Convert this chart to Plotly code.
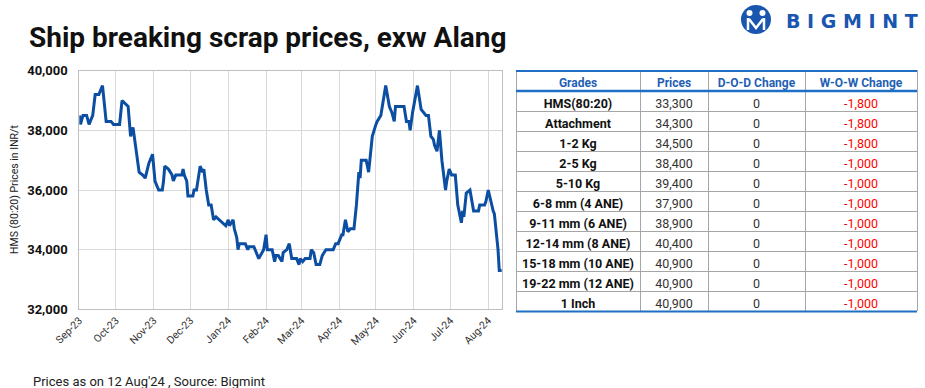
import plotly.graph_objects as go

# ---------------- data ----------------
dates = [
    "2023-09-01", "2023-09-02", "2023-09-04", "2023-09-07", "2023-09-09", "2023-09-12",
    "2023-09-14", "2023-09-17", "2023-09-20", "2023-09-23", "2023-09-27", "2023-09-29",
    "2023-10-04", "2023-10-06", "2023-10-11", "2023-10-13", "2023-10-15", "2023-10-18",
    "2023-10-20", "2023-10-23", "2023-10-25", "2023-10-28", "2023-10-31",
    "2023-11-02", "2023-11-05", "2023-11-08", "2023-11-09", "2023-11-10", "2023-11-13",
    "2023-11-16", "2023-11-17", "2023-11-19", "2023-11-24", "2023-11-25", "2023-11-26",
    "2023-11-28", "2023-11-29",
    "2023-12-03", "2023-12-04", "2023-12-06", "2023-12-08", "2023-12-09", "2023-12-11",
    "2023-12-12", "2023-12-14", "2023-12-16", "2023-12-18", "2023-12-20", "2023-12-22",
    "2023-12-27", "2023-12-30",
    "2024-01-01", "2024-01-02", "2024-01-05", "2024-01-06", "2024-01-08", "2024-01-09",
    "2024-01-10", "2024-01-15", "2024-01-17", "2024-01-18", "2024-01-22", "2024-01-26",
    "2024-01-30",
    "2024-02-01", "2024-02-02", "2024-02-06", "2024-02-08", "2024-02-09", "2024-02-11",
    "2024-02-14", "2024-02-15", "2024-02-18", "2024-02-20", "2024-02-22", "2024-02-26",
    "2024-02-28", "2024-02-29",
    "2024-03-02", "2024-03-04", "2024-03-08", "2024-03-09", "2024-03-11", "2024-03-13",
    "2024-03-16", "2024-03-18", "2024-03-21", "2024-03-27", "2024-03-29", "2024-03-31",
    "2024-04-03", "2024-04-04", "2024-04-06", "2024-04-08", "2024-04-10", "2024-04-13",
    "2024-04-15", "2024-04-17", "2024-04-18", "2024-04-19", "2024-04-23", "2024-04-25",
    "2024-04-26", "2024-04-28",
    "2024-05-01", "2024-05-02", "2024-05-05", "2024-05-09", "2024-05-12", "2024-05-14",
    "2024-05-16", "2024-05-17", "2024-05-24", "2024-05-26", "2024-05-28", "2024-05-29",
    "2024-05-31",
    "2024-06-04", "2024-06-07", "2024-06-11", "2024-06-13", "2024-06-15", "2024-06-17",
    "2024-06-18", "2024-06-20", "2024-06-22", "2024-06-24", "2024-06-27", "2024-06-28",
    "2024-06-30",
    "2024-07-02", "2024-07-05", "2024-07-07", "2024-07-10", "2024-07-11", "2024-07-12",
    "2024-07-14", "2024-07-17", "2024-07-20", "2024-07-24", "2024-07-25", "2024-07-29",
    "2024-07-30",
    "2024-08-01", "2024-08-05", "2024-08-06", "2024-08-09", "2024-08-10", "2024-08-12",
]
hms_prices = [
    38500, 38200, 38500, 38500, 38200, 38500,
    39200, 39200, 39500, 38300, 38300, 38200,
    38200, 39000, 38800, 37800, 38100, 37200,
    36600, 36500, 36400, 36900, 37200,
    36300, 36000, 36000, 36300, 36800, 36700,
    36500, 36300, 36500, 36500, 36700, 36500,
    36300, 35800,
    35800, 36000, 36000, 36500, 36800, 36600,
    36700, 36000, 35500, 35500, 35000, 35100,
    34900, 34800,
    35000, 34800, 35000, 34700, 34400, 34000,
    34200, 34200, 34000, 34100, 34100, 33700,
    34000,
    34500, 34000, 34000, 33600, 33800, 33800,
    33600, 33900, 34000, 34200, 33700, 33700,
    33500, 33700,
    33600, 33700, 33700, 34000, 33900, 33500,
    33500, 33800, 34000, 34000, 34200, 34200,
    34500, 34500, 35000, 34600, 34700, 34700,
    35500, 36600, 36400, 37000, 37000, 36600,
    37000, 37800,
    38200, 38300, 38500, 39500, 38800, 38600,
    38300, 38800, 38800, 38300, 38300, 38000,
    38600,
    39500, 38700, 38500, 38500, 37800, 37700,
    37500, 37300, 38000, 37000, 36000, 36300,
    36700,
    36500, 36500, 35500, 34900, 35300, 35100,
    35900, 36000, 35300, 35300, 35500, 35500,
    35600,
    36000, 35300, 35200, 34000, 33300, 33300,
]

table_headers = ["Grades", "Prices", "D-O-D Change", "W-O-W Change"]
grades = ["HMS(80:20)", "Attachment", "1-2 Kg", "2-5 Kg", "5-10 Kg", "6-8 mm (4 ANE)",
          "9-11 mm (6 ANE)", "12-14 mm (8 ANE)", "15-18 mm (10 ANE)", "19-22 mm (12 ANE)", "1 Inch"]
grade_prices = [33300, 34300, 34500, 38400, 39400, 37900, 38900, 40400, 40900, 40900, 40900]
dod_change = [0, 0, 0, 0, 0, 0, 0, 0, 0, 0, 0]
wow_change = [-1800, -1800, -1800, -1000, -1000, -1000, -1000, -1000, -1000, -1000, -1000]

title_text = "Ship breaking scrap prices, exw Alang"
y_title = "HMS (80:20) Prices in INR/t"
footer_text = "Prices as on 12 Aug'24 , Source: Bigmint"
brand_text = "BIGMINT"

# ---------------- layout helpers ----------------
W, H = 925, 388
def px(x):
    return x / W
def py(y):
    return 1 - y / H

def nb(s):
    # keep table text on one line
    return s.replace(" ", "\u00a0")

LINE_BLUE = "#0b4ea2"
BRAND = "#1a56b0"
GRID = "#d9d9d9"
AXIS = "#bfbfbf"
TBL_BLUE = "#1f6fc5"

fig = go.Figure()

fig.add_trace(go.Scatter(
    x=dates, y=hms_prices, mode="lines",
    line=dict(color=LINE_BLUE, width=3),
    hoverinfo="x+y", showlegend=False,
))

fig.add_trace(go.Table(
    domain=dict(x=[px(516), px(917)], y=[py(311), py(70)]),
    columnwidth=[124, 68, 97, 112],
    header=dict(
        values=[nb(h) for h in table_headers],
        fill_color="white",
        line=dict(color="#a6a6a6", width=1),
        font=dict(family="Roboto", size=12, color="#1f5fb4", weight="bold"),
        align="center", height=21,
    ),
    cells=dict(
        values=[
            [nb(g) for g in grades],
            [f"{v:,}" for v in grade_prices],
            [f"{v:,}" for v in dod_change],
            [f"{v:,}" for v in wow_change],
        ],
        fill_color="white",
        line=dict(color="#a6a6a6", width=1),
        font=dict(family="Roboto", size=12.5,
                  color=["#111111", "#333333", "#333333", "#ff0000"],
                  weight=["bold", "normal", "normal", "normal"]),
        align="center", height=20,
    ),
))

shapes = [
    # table blue rules
    dict(type="line", xref="paper", yref="paper", x0=px(516), x1=px(917), y0=py(71), y1=py(71),
         line=dict(color=TBL_BLUE, width=2)),
    dict(type="line", xref="paper", yref="paper", x0=px(516), x1=px(917), y0=py(91), y1=py(91),
         line=dict(color=TBL_BLUE, width=2.5)),
    dict(type="line", xref="paper", yref="paper", x0=px(516), x1=px(917), y0=py(311.5), y1=py(311.5),
         line=dict(color=TBL_BLUE, width=2)),
    # logo icon
    dict(type="circle", xref="paper", yref="paper", x0=px(741), x1=px(771), y0=py(34), y1=py(5),
         fillcolor=BRAND, line=dict(width=0)),
    dict(type="circle", xref="paper", yref="paper", x0=px(746.5), x1=px(752.5), y0=py(16), y1=py(10),
         fillcolor="white", line=dict(width=0)),
    dict(type="circle", xref="paper", yref="paper", x0=px(759.5), x1=px(765.5), y0=py(16), y1=py(10),
         fillcolor="white", line=dict(width=0)),
    dict(type="path", xref="paper", yref="paper",
         path=(f"M {px(748)} {py(18)} L {px(748)} {py(30)} M {px(764)} {py(18)} L {px(764)} {py(30)} "
               f"M {px(749)} {py(19)} L {px(756)} {py(28)} L {px(763)} {py(19)}"),
         line=dict(color="white", width=2.5)),
]

annotations = [
    dict(text=f"<b>{title_text}</b>", x=px(27), y=py(37), xref="paper", yref="paper",
         xanchor="left", yanchor="middle", showarrow=False,
         font=dict(family="Roboto", size=28, color="#111111")),
    dict(text="<b>" + " ".join(brand_text) + "</b>", x=px(784), y=py(21),
         xref="paper", yref="paper", xanchor="left", yanchor="middle", showarrow=False,
         font=dict(family="DejaVu Sans", size=19, color=BRAND)),
    dict(text=y_title, x=px(14), y=py(190), xref="paper", yref="paper", textangle=-90,
         xanchor="center", yanchor="middle", showarrow=False,
         font=dict(family="Roboto", size=10.5, color="#222222")),
    dict(text=footer_text, x=px(31), y=py(381), xref="paper", yref="paper",
         xanchor="left", yanchor="middle", showarrow=False,
         font=dict(family="Roboto", size=13, color="#222222")),
]

fig.update_layout(
    width=W, height=H,
    margin=dict(l=0, r=0, t=0, b=0, pad=0),
    paper_bgcolor="white", plot_bgcolor="white",
    showlegend=False,
    xaxis=dict(
        domain=[px(79.3), px(502.3)],
        type="date", automargin=False,
        range=["2023-09-01", "2024-08-12 12:00"],
        tick0="2023-09-01", dtick="M1", tickformat="%b-%y",
        tickangle=-45,
        tickfont=dict(family="Roboto", size=10.5, color="#333333"),
        showgrid=True, gridcolor=GRID, gridwidth=1,
        showline=True, linecolor=AXIS, linewidth=1, mirror=True,
        ticks="", zeroline=False,
    ),
    yaxis=dict(
        domain=[py(309.3), py(70.7)], automargin=False,
        range=[32000, 40000], dtick=2000, tickformat=",",
        tickfont=dict(family="Roboto", size=13, color="#111111", weight="bold"),
        showgrid=True, gridcolor=GRID, gridwidth=1,
        showline=True, linecolor=AXIS, linewidth=1, mirror=True,
        ticks="", zeroline=False, ticklabelstandoff=8,
    ),
    shapes=shapes,
    annotations=annotations,
)

fig.write_html(
    "out.html",
    config={"displayModeBar": False},
    post_script="document.body.style.margin='0';document.body.style.padding='0';",
)
